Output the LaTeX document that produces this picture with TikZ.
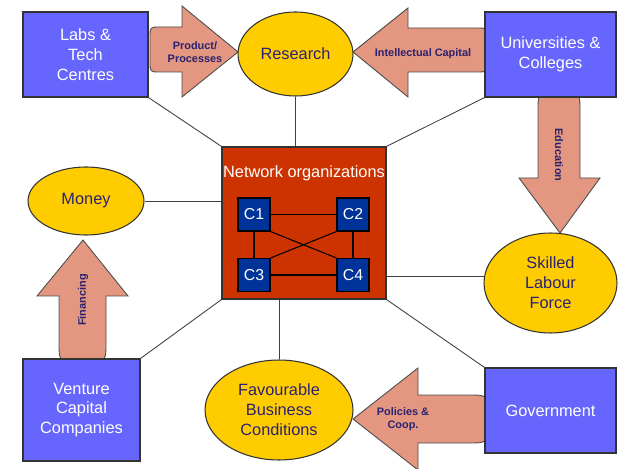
\documentclass[tikz,border=0pt]{standalone}
\usepackage{fontspec}
\setmainfont{Liberation Sans}
\usetikzlibrary{shapes.geometric,backgrounds,calc}
\definecolor{boxblue}{HTML}{6666FF}
\definecolor{ovalyellow}{HTML}{FFCC00}
\definecolor{arrowsalmon}{HTML}{E39680}
\definecolor{netred}{HTML}{CC3300}
\definecolor{cblue}{HTML}{003399}
\definecolor{inknavy}{HTML}{2A2270}

\tikzset{
  box/.style={draw=black!80, fill=boxblue, text=white, align=center, inner sep=0pt,
    line width=0.7pt, font=\fontsize{9.3}{11.3}\selectfont},
  oval/.style={ellipse, draw=black!80, fill=ovalyellow, text=inknavy, align=center,
    inner sep=0pt, line width=0.6pt, font=\fontsize{9.3}{11.3}\selectfont},
  netbox/.style={draw=black!80, fill=netred, line width=0.7pt, inner sep=0pt},
  cbox/.style={draw=black, fill=cblue, text=white, inner sep=0pt, line width=0.6pt,
    minimum width=0.64cm, minimum height=0.66cm, font=\fontsize{9}{10}\selectfont},
  blockarrow/.style={draw=black!70, fill=arrowsalmon, line width=0.5pt},
  arrowtext/.style={text=inknavy, align=center, inner sep=0pt,
    font=\fontsize{6.2}{7.5}\selectfont\bfseries},
  link/.style={draw=black!75, line width=0.5pt},
  inlink/.style={draw=black, line width=0.6pt}
}

\begin{document}
\begin{tikzpicture}[x=0.02cm, y=-0.02cm]
    \useasboundingbox (0,0) rectangle (625,469);

    % Block arrows (tails tucked under the boxes)
    \draw[blockarrow] (160,27) -- (182,27) -- (182,6) -- (238,52) -- (182,97) -- (182,72) -- (160,72)
        .. controls (150,72) .. (150,62) -- (150,37) .. controls (150,27) .. (160,27) -- cycle;
    \node[arrowtext] (prodlbl) at (195,52) {Product/\\Processes};

    \draw[blockarrow] (353,52) -- (408,8) -- (408,28) -- (477,28) .. controls (487,28) .. (487,38)
        -- (487,62) .. controls (487,72) .. (477,72) -- (408,72) -- (408,97) -- cycle;
    \node[arrowtext] (intlbl) at (423,54) {Intellectual Capital};

    \draw[blockarrow] (560,233) -- (519,178) -- (538,178) -- (538,109) .. controls (538,95) .. (552,95)
        -- (566,95) .. controls (580,95) .. (580,109) -- (580,178) -- (600,178) -- cycle;
    \node[arrowtext, rotate=-90] (edulbl) at (559,155) {Education};

    \draw[blockarrow] (83,240) -- (128,296) -- (106,296) -- (106,343) .. controls (106,361) .. (88,361)
        -- (77,361) .. controls (59,361) .. (59,343) -- (59,296) -- (37,296) -- cycle;
    \node[arrowtext, rotate=90] (finlbl) at (83,300) {Financing};

    \draw[blockarrow] (353,419) -- (418,368) -- (418,395) -- (469,395) .. controls (487,395) .. (487,413)
        -- (487,425) .. controls (487,443) .. (469,443) -- (418,443) -- (418,470) -- cycle;
    \node[arrowtext] (pollbl) at (403,419) {Policies \&\\Coop.};

    % Actors
    \node[box, minimum width=2.5cm, minimum height=1.7cm] (labs) at (85.5,54.5) {Labs \&\\Tech\\Centres};
    \node[box, minimum width=2.62cm, minimum height=1.7cm] (univ) at (550.5,54.5) {Universities \&\\Colleges};
    \node[box, minimum width=2.62cm, minimum height=1.7cm] (gov) at (550.5,410.5) {Government};
    \node[box, minimum width=2.34cm, minimum height=2.04cm] (venture) at (81.5,410) {Venture\\Capital\\Companies};

    % Resources
    \node[oval, minimum width=2.3cm, minimum height=1.68cm] (research) at (295.5,54) {Research};
    \node[oval, minimum width=2.32cm, minimum height=1.36cm] (money) at (86,201) {Money};
    \node[oval, minimum width=2.66cm, minimum height=2cm] (skilled) at (550.5,283) {Skilled\\Labour\\Force};
    \node[oval, minimum width=2.96cm, minimum height=2cm] (favour) at (279,410) {Favourable\\Business\\Conditions};

    % Network in the middle
    \node[netbox, minimum width=3.28cm, minimum height=3.04cm] (net) at (304,223) {};
    \node[text=white, inner sep=0pt, font=\fontsize{9.3}{11}\selectfont] (nettitle) at (304,173) {Network organizations};
    \node[cbox] (c1) at (254,214.5) {C1};
    \node[cbox] (c2) at (353,214.5) {C2};
    \node[cbox] (c3) at (254,275) {C3};
    \node[cbox] (c4) at (353,275) {C4};

    \draw[inlink] (c1) -- (c2);
    \draw[inlink] (c3) -- (c4);
    \draw[inlink] (c1) -- (c3);
    \draw[inlink] (c2) -- (c4);
    \draw[inlink] (c1.south east) -- (c4.north west);
    \draw[inlink] (c2.south west) -- (c3.north east);

    % Spokes
    \begin{scope}[on background layer]
        \draw[link] (labs.south east) -- (net.north west);
        \draw[link] (research.south) -- (research.south |- net.north);
        \draw[link] (univ.south west) -- (net.north east);
        \draw[link] (money.east) -- (money.east -| net.west);
        \draw[link] (skilled.174) -- (skilled.174 -| net.east);
        \draw[link] (gov.north west) -- (net.south east);
        \draw[link] (venture.north east) -- (net.south west);
        \draw[link] (favour.north) -- (favour.north |- net.south);
    \end{scope}
\end{tikzpicture}
\end{document}
